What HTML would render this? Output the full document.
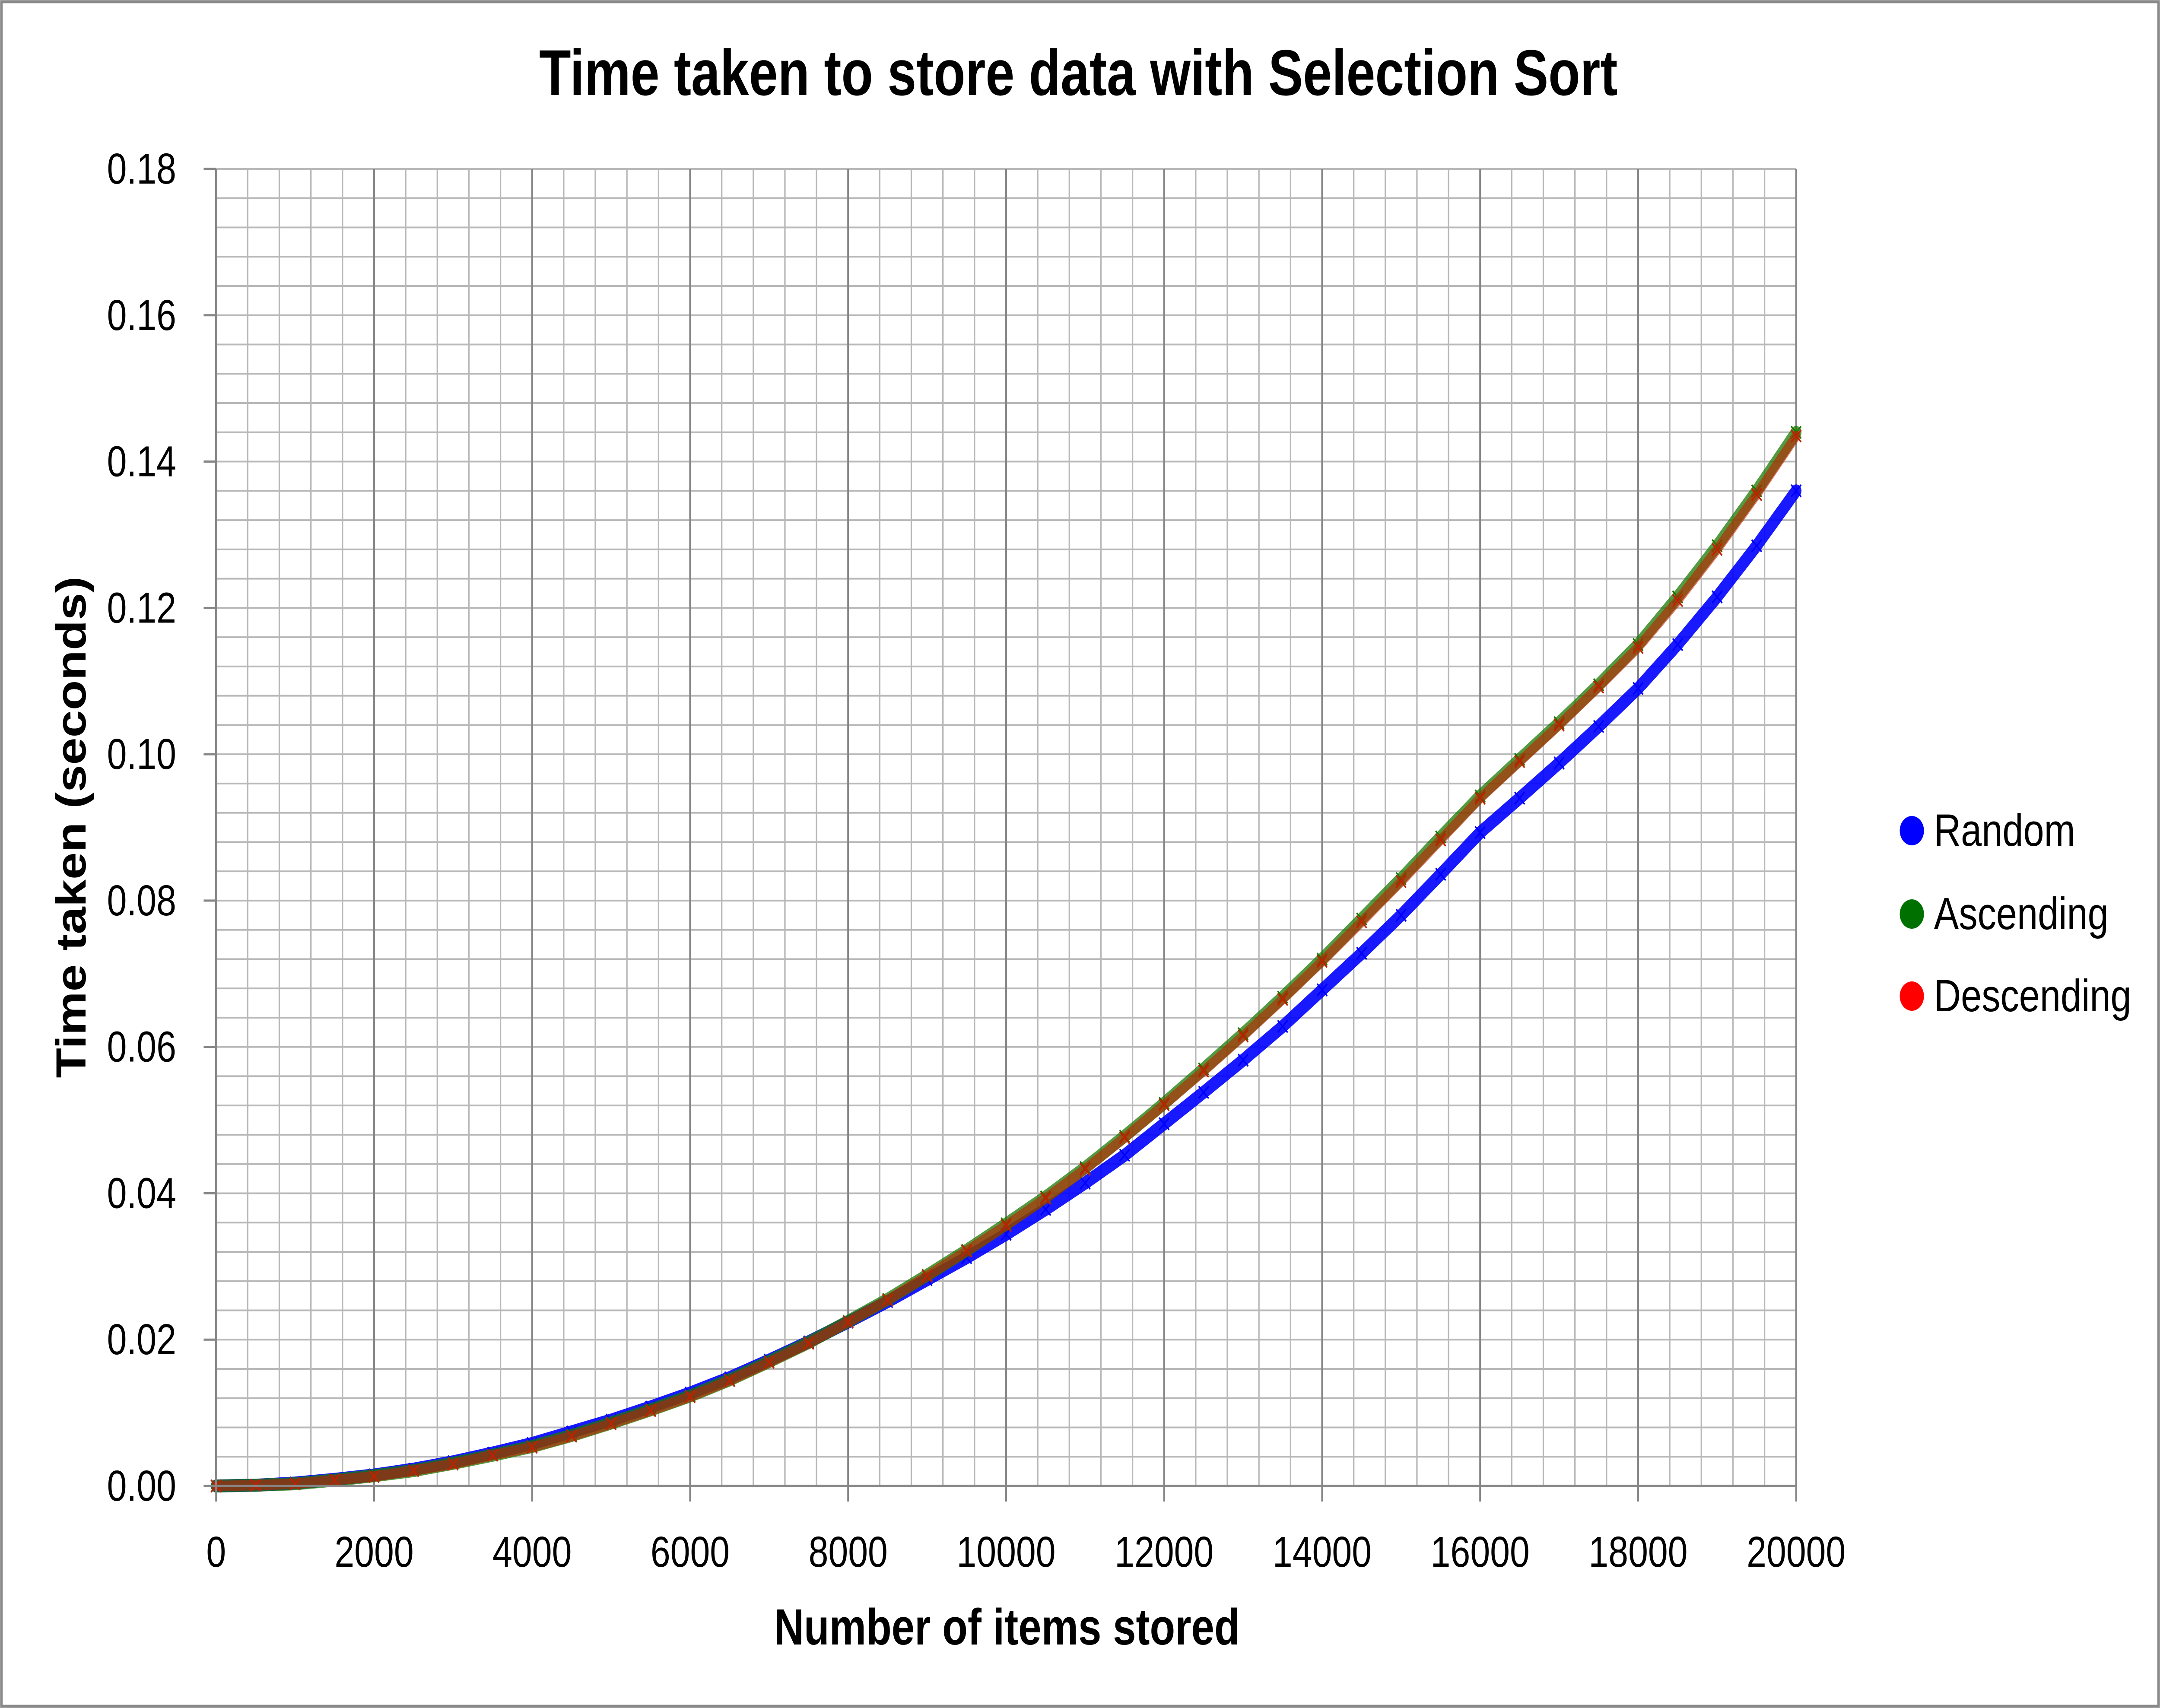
<!DOCTYPE html>
<html><head><meta charset="utf-8"><style>
html,body{margin:0;padding:0;background:#fff;overflow:hidden;width:100%;height:100%}
svg{display:block;width:100vw;height:100vh}
text{font-family:"Liberation Sans",sans-serif;fill:#000}
</style></head><body>
<svg id="chart" viewBox="0 0 6067 3954" preserveAspectRatio="none" xmlns="http://www.w3.org/2000/svg">
<rect x="4" y="4" width="6059" height="3946" fill="#fff" stroke="#898989" stroke-width="7"/>
<text x="3029" y="220" text-anchor="middle" font-size="150" font-weight="bold" textLength="3029" lengthAdjust="spacingAndGlyphs">Time taken to store data with Selection Sort</text>
<g id="grid"></g>
<g id="series"></g>
<g id="axes"></g>
<text x="2828" y="3807" text-anchor="middle" font-size="118" font-weight="bold" textLength="1308" lengthAdjust="spacingAndGlyphs">Number of items stored</text>
<text transform="translate(240,1915) rotate(-90)" text-anchor="middle" font-size="118" font-weight="bold" textLength="1161" lengthAdjust="spacingAndGlyphs">Time taken (seconds)</text>
<g>
 <g><circle cx="5370" cy="1923" r="34" fill="#0000ff"/><text x="5432" y="1958" font-size="105">Random</text></g>
 <g><circle cx="5370" cy="2116" r="34" fill="#007000"/><text x="5432" y="2151" font-size="105">Ascending</text></g>
 <g><circle cx="5370" cy="2306" r="34" fill="#ff0000"/><text x="5432" y="2341" font-size="105">Descending</text></g>
</g>
</svg>
<script>
const nValues = [0,500,1000,1500,2000,2500,3000,3500,4000,4500,5000,5500,6000,6500,7000,7500,8000,8500,9000,9500,10000,10500,11000,11500,12000,12500,13000,13500,14000,14500,15000,15500,16000,16500,17000,17500,18000,18500,19000,19500,20000];
const randomTimes = [0,0.0001,0.0004,0.0009,0.0015,0.0023,0.0033,0.0045,0.0058,0.0074,0.0090,0.0108,0.0127,0.0148,0.0172,0.0197,0.0224,0.0252,0.0282,0.0312,0.0344,0.0378,0.0414,0.0452,0.0495,0.0538,0.0582,0.0628,0.0678,0.0728,0.0780,0.0836,0.0893,0.0940,0.0988,0.1038,0.1090,0.1150,0.1215,0.1285,0.1360];
const ascendingTimes = [0,0.0001,0.0003,0.0008,0.0014,0.0021,0.0031,0.0042,0.0054,0.0069,0.0086,0.0104,0.0123,0.0145,0.0170,0.0196,0.0225,0.0255,0.0288,0.0322,0.0358,0.0395,0.0435,0.0478,0.0523,0.0570,0.0618,0.0668,0.0720,0.0775,0.0830,0.0887,0.0943,0.0993,0.1043,0.1095,0.1150,0.1215,0.1285,0.1360,0.1440];
const descendingTimes = [0,0.0001,0.0003,0.0008,0.0013,0.0021,0.0030,0.0042,0.0053,0.0068,0.0085,0.0103,0.0122,0.0144,0.0169,0.0195,0.0224,0.0254,0.0287,0.0321,0.0356,0.0393,0.0433,0.0476,0.0521,0.0567,0.0615,0.0665,0.0717,0.0771,0.0826,0.0883,0.0940,0.0990,0.1040,0.1092,0.1146,0.1210,0.1280,0.1355,0.1435];
const yTickLabels = ["0.00","0.02","0.04","0.06","0.08","0.10","0.12","0.14","0.16","0.18"];
const xTickLabels = ["0","2000","4000","6000","8000","10000","12000","14000","16000","18000","20000"];

const NS="http://www.w3.org/2000/svg";
const L=607,R=5045,T=391,B=3440,XMAX=20000,YMAX=0.18;
const sx=v=>L+(R-L)*v/XMAX;
const sy=v=>B-(B-T)*v/YMAX;
function mk(tag,attrs,parent){const e=document.createElementNS(NS,tag);for(const k in attrs)e.setAttribute(k,attrs[k]);parent.appendChild(e);return e;}
const grid=document.getElementById('grid'),axes=document.getElementById('axes'),ser=document.getElementById('series');

for(let i=0;i<=45;i++){const v=i*0.004;const y=sy(v);
 const e=mk('line',{x1:L,x2:R,y1:y,y2:y,stroke:'#b8b8b8','stroke-width':4},grid);
 
 }
for(let i=0;i<=50;i++){const v=i*400;const x=sx(v);const major=(i%5===0);
 const e=mk('line',{x1:x,x2:x,y1:T,y2:B,stroke:major?'#868686':'#b8b8b8','stroke-width':major?5:4},grid);
 
 }

yTickLabels.forEach((lab,i)=>{const v=parseFloat(lab);const y=sy(v);
 const t=mk('line',{x1:572,x2:L,y1:y,y2:y,stroke:'#868686','stroke-width':5},axes);
 
 
 const tx=mk('text',{x:495,y:y+34,'text-anchor':'end','font-size':100},axes);tx.textContent=lab;
 
 });
xTickLabels.forEach((lab,i)=>{const v=parseFloat(lab);const x=sx(v);
 const t=mk('line',{x1:x,x2:x,y1:B,y2:B+36,stroke:'#868686','stroke-width':5},axes);
 
 
 const tx=mk('text',{x:x,y:3627,'text-anchor':'middle','font-size':100},axes);tx.textContent=lab;
 
 });
const xa=mk('line',{x1:L-35,x2:R,y1:B,y2:B,stroke:'#868686','stroke-width':6},axes);


const ya=mk('line',{x1:L,x2:L,y1:T,y2:B,stroke:'#868686','stroke-width':6},axes);



function drawSeries(vals,color,bandW,op,name){
 const g=mk('g',{},ser);
 
 
 const pts=nValues.map((n,i)=>sx(n)+','+sy(vals[i])).join(' ');
 const band=mk('polyline',{points:pts,fill:'none',stroke:color,'stroke-width':bandW,'stroke-opacity':op,'stroke-linejoin':'round','stroke-linecap':'round'},g);
 
 
 nValues.forEach((n,i)=>{const x=sx(n),y=sy(vals[i]),s=14;
  const p=mk('path',{d:`M${x-s},${y-s}L${x+s},${y+s}M${x-s},${y+s}L${x+s},${y-s}`,stroke:color,'stroke-width':4,fill:'none'},g);
  
  });
}
drawSeries(randomTimes,'#0000ff',30,0.9,'random-series');
drawSeries(ascendingTimes,'#1a7a00',30,0.75,'ascending-series');
drawSeries(descendingTimes,'#c02000',24,0.6,'descending-series');
</script>
</body></html>
